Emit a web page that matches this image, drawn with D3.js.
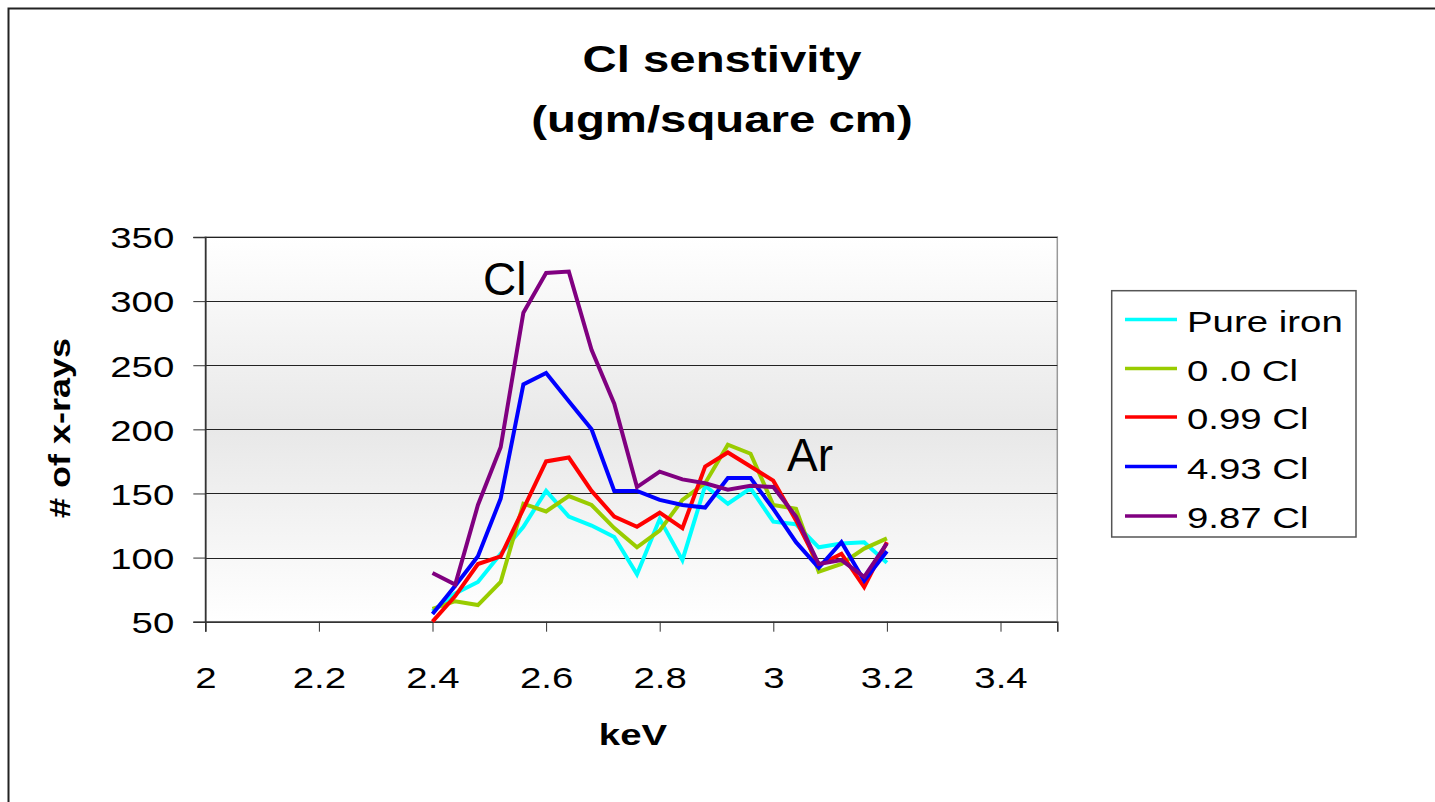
<!DOCTYPE html>
<html>
<head>
<meta charset="utf-8">
<script src="https://cdn.jsdelivr.net/npm/d3@7"></script>
<style>
  html, body { margin: 0; padding: 0; background: #fff; }
  svg { display: block; font-family: "Liberation Sans", Arial, sans-serif; }
</style>
</head>
<body>
<svg id="chart" width="1435" height="802"></svg>
<script>
// ---- data ----
const keV = [2.40, 2.44, 2.48, 2.52, 2.56, 2.60, 2.64, 2.68, 2.72, 2.76, 2.80,
             2.84, 2.88, 2.92, 2.96, 3.00, 3.04, 3.08, 3.12, 3.16, 3.20];
const pureIron = [58, 72, 81, 103, 124, 152, 132, 125, 116, 87, 130,
                  98, 156, 142, 154, 128, 126, 108, 111, 112, 96];
const zeroCl   = [60, 66, 63, 81, 142, 136, 148, 141, 123, 108, 121,
                  145, 158, 188, 181, 141, 138, 89, 95, 107, 115];
const cl099    = [50, 70, 95, 101, 138, 175, 178, 152, 132, 124, 135,
                  123, 171, 182, 171, 160, 129, 94, 103, 77, 112];
const cl493    = [56, 78, 101, 146, 235, 244, 222, 200, 152, 152, 145,
                  141, 139, 162, 162, 138, 112, 92, 112, 82, 105];
const cl987    = [88, 79, 141, 186, 291, 322, 323, 262, 220, 155, 167,
                  161, 158, 153, 156, 155, 132, 95, 98, 85, 111];
const seriesNames = ["Pure iron", "0 .0 Cl", "0.99 Cl", "4.93 Cl", "9.87 Cl"];
const seriesValues = [pureIron, zeroCl, cl099, cl493, cl987];
const seriesColors = ["#00FFFF", "#99CC00", "#FF0000", "#0000FF", "#800080"];
const xTicks = [2, 2.2, 2.4, 2.6, 2.8, 3, 3.2, 3.4];
const yTicks = [50, 100, 150, 200, 250, 300, 350];
const titleLines = ["Cl senstivity", "(ugm/square cm)"];

// ---- layout ----
const SX = 1.28; // horizontal stretch of the reference text
const svg = d3.select("#chart");
const plot = { left: 205.3, right: 1057.3, top: 237, bottom: 621.7 };

const x = d3.scaleLinear().domain([2, 3.5]).range([plot.left, plot.right]);
const y = d3.scaleLinear().domain([50, 350]).range([plot.bottom, plot.top]);

// outer frame
svg.append("rect")
  .attr("x", 8.5).attr("y", 8.5).attr("width", 1500).attr("height", 900)
  .attr("fill", "#fff").attr("stroke", "#222").attr("stroke-width", 2);

// gradient background
const defs = svg.append("defs");
const grad = defs.append("linearGradient").attr("id", "bg")
  .attr("x1", 0).attr("y1", 0).attr("x2", 0).attr("y2", 1);
grad.append("stop").attr("offset", "0%").attr("stop-color", "#ffffff");
grad.append("stop").attr("offset", "50%").attr("stop-color", "#e8e8e8");
grad.append("stop").attr("offset", "100%").attr("stop-color", "#ffffff");

svg.append("rect")
  .attr("x", plot.left).attr("y", plot.top)
  .attr("width", plot.right - plot.left).attr("height", plot.bottom - plot.top)
  .attr("fill", "url(#bg)").attr("stroke", "#999").attr("stroke-width", 1.5);

// gridlines
svg.append("g").selectAll("line").data(yTicks.filter(v => v > 50)).join("line")
  .attr("x1", plot.left).attr("x2", plot.right)
  .attr("y1", d => Math.round(y(d)) + 0.5).attr("y2", d => Math.round(y(d)) + 0.5)
  .attr("stroke", "#222").attr("stroke-width", 1);

// y axis
const yAxis = svg.append("g").attr("transform", `translate(${plot.left},0)`)
  .call(d3.axisLeft(y).tickValues(yTicks).tickSize(12).tickFormat(d3.format("d")));
yAxis.select(".domain").attr("stroke", "#333").attr("stroke-width", 1.6);
yAxis.selectAll(".tick line").attr("stroke", "#333").attr("stroke-width", 1);
yAxis.selectAll(".tick text")
  .attr("font-size", 30).attr("fill", "#000")
  .attr("font-family", "Liberation Sans, Arial, sans-serif")
  .attr("x", -31 / SX).attr("dy", "0.36em")
  .attr("transform", `scale(${SX},1)`);

// x axis
const xAxis = svg.append("g").attr("transform", `translate(0,${plot.bottom})`)
  .call(d3.axisBottom(x).tickValues(xTicks).tickSize(10).tickFormat(d3.format("")));
xAxis.select(".domain").attr("stroke", "#333").attr("stroke-width", 1.6);
xAxis.selectAll(".tick line").attr("stroke", "#333").attr("stroke-width", 1);
xAxis.selectAll(".tick text")
  .attr("font-size", 30).attr("fill", "#000")
  .attr("font-family", "Liberation Sans, Arial, sans-serif")
  .attr("y", 66).attr("dy", 0).attr("x", 0)
  .attr("transform", `scale(${SX},1)`);

// series lines
const line = d3.line().x((d, i) => x(keV[i])).y(d => y(d));
svg.append("g").selectAll("path").data(seriesValues).join("path")
  .attr("d", d => line(d))
  .attr("fill", "none")
  .attr("stroke", (d, i) => seriesColors[i])
  .attr("stroke-width", 4)
  .attr("stroke-linejoin", "miter");

// annotations
svg.append("text").attr("x", 483).attr("y", 295).attr("font-size", 46).text("Cl");
svg.append("text").attr("x", 787).attr("y", 471).attr("font-size", 46).text("Ar");

// stretched text helper
function stretchedText(px, py, str, size, weight, anchor) {
  return svg.append("g").attr("transform", `translate(${px},${py}) scale(${SX},1)`)
    .append("text").attr("text-anchor", anchor).attr("font-size", size)
    .attr("font-weight", weight).attr("fill", "#000").text(str);
}

// title
stretchedText(722, 71.7, titleLines[0], 37, "bold", "middle");
stretchedText(722, 131.7, titleLines[1], 37, "bold", "middle");

// axis titles
stretchedText(633, 745, "keV", 30, "bold", "middle");
svg.append("g").attr("transform", "translate(70,428) rotate(-90) scale(1.2,1)")
  .append("text").attr("text-anchor", "middle").attr("font-size", 30)
  .attr("font-weight", "bold").text("# of x-rays");

// legend
const legend = svg.append("g");
legend.append("rect").attr("x", 1111.7).attr("y", 290.7)
  .attr("width", 1356 - 1111.7).attr("height", 537 - 290.7)
  .attr("fill", "#fff").attr("stroke", "#555").attr("stroke-width", 1.5);
const legY = [319.5, 368.5, 417, 466.5, 516];
seriesNames.forEach((name, i) => {
  legend.append("line")
    .attr("x1", 1125).attr("x2", 1177).attr("y1", legY[i]).attr("y2", legY[i])
    .attr("stroke", seriesColors[i]).attr("stroke-width", 3.5);
  legend.append("g").attr("transform", `translate(1187,${legY[i] + 12}) scale(${SX},1)`)
    .append("text").attr("font-size", 30).attr("fill", "#000").text(name);
});
</script>
</body>
</html>
